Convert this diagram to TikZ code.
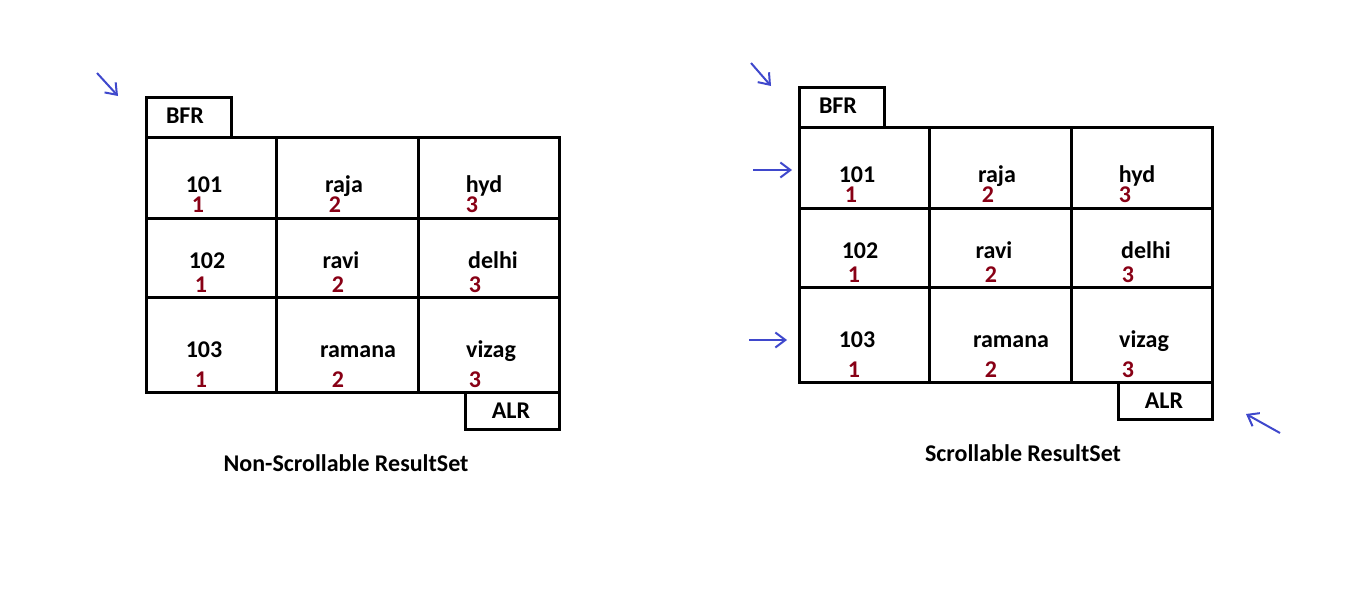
\documentclass[tikz,border=0pt]{standalone}
\usepackage{fontspec}
\setmainfont{Carlito}
\usetikzlibrary{arrows.meta}

\definecolor{idxred}{HTML}{880015}
\definecolor{markblue}{HTML}{3F48CC}

\tikzset{
  cell/.style={rectangle, draw, line width=3pt, anchor=north west, inner sep=0pt},
  val/.style={anchor=base, inner sep=0pt, font=\fontsize{24}{28}\selectfont\bfseries},
  idx/.style={val, text=idxred},
  pointer/.style={draw=markblue, line width=2pt, -{Straight Barb[length=10pt, width=15pt]}},
}

% one result set table, #1 = name prefix
\newcommand{\rstable}[1]{%
  \node (#1bfr) [cell, minimum width=85pt, minimum height=40pt] at (0,-40) {};
  \node (#1c11) [cell, minimum width=130pt, minimum height=81pt] at (0,0) {};
  \node (#1c12) [cell, minimum width=142pt, minimum height=81pt] at (130,0) {};
  \node (#1c13) [cell, minimum width=141pt, minimum height=81pt] at (272,0) {};
  \node (#1c21) [cell, minimum width=130pt, minimum height=79pt] at (0,81) {};
  \node (#1c22) [cell, minimum width=142pt, minimum height=79pt] at (130,81) {};
  \node (#1c23) [cell, minimum width=141pt, minimum height=79pt] at (272,81) {};
  \node (#1c31) [cell, minimum width=130pt, minimum height=95pt] at (0,160) {};
  \node (#1c32) [cell, minimum width=142pt, minimum height=95pt] at (130,160) {};
  \node (#1c33) [cell, minimum width=141pt, minimum height=95pt] at (272,160) {};
  \node (#1alr) [cell, minimum width=94pt, minimum height=37pt] at (319,255) {};
  %
  \node (#1bfrt) [val] at (40,-13) {BFR};
  \node (#1alrt) [val] at (366,282) {ALR};
  %
  \node (#1t11) [val] at (59,56) {101};
  \node (#1t12) [val] at (199,56) {raja};
  \node (#1t13) [val] at (339,56) {hyd};
  \node (#1n11) [idx] at (53,76) {1};
  \node (#1n12) [idx] at (190,76) {2};
  \node (#1n13) [idx] at (327,76) {3};
  %
  \node (#1t21) [val] at (62,132) {102};
  \node (#1t22) [val] at (196,132) {ravi};
  \node (#1t23) [val] at (348,132) {delhi};
  \node (#1n21) [idx] at (56,156) {1};
  \node (#1n22) [idx] at (193,156) {2};
  \node (#1n23) [idx] at (330,156) {3};
  %
  \node (#1t31) [val] at (59,221) {103};
  \node (#1t32) [val] at (213,221) {ramana};
  \node (#1t33) [val] at (346,221) {vizag};
  \node (#1n31) [idx] at (56,251) {1};
  \node (#1n32) [idx] at (193,251) {2};
  \node (#1n33) [idx] at (330,251) {3};
}

\begin{document}
\begin{tikzpicture}[x=1pt, y=-1pt]

\useasboundingbox (0,0) rectangle (1360,613);

% non-scrollable
\begin{scope}[shift={(145,136)}]
\rstable{l}
\end{scope}
\node (lcap) [val] at (346,471) {Non-Scrollable ResultSet};

\coordinate (lbfrtail) at (97,73);
\coordinate (lbfrhead) at (118,96);
\draw [pointer] (lbfrtail) -- (lbfrhead);

% scrollable
\begin{scope}[shift={(798,126)}]
\rstable{r}
\end{scope}
\node (rcap) [val] at (1023,461) {Scrollable ResultSet};

\coordinate (rbfrtail) at (751,63);
\coordinate (rbfrhead) at (771,86);
\draw [pointer] (rbfrtail) -- (rbfrhead);

\coordinate (rowatail) at (753,170);
\coordinate (rowahead) at (792,170);
\draw [pointer] (rowatail) -- (rowahead);

\coordinate (rowbtail) at (749,340);
\coordinate (rowbhead) at (787,340);
\draw [pointer] (rowbtail) -- (rowbhead);

\coordinate (ralrtail) at (1280,433);
\coordinate (ralrhead) at (1246,414);
\draw [pointer] (ralrtail) -- (ralrhead);

\end{tikzpicture}
\end{document}
